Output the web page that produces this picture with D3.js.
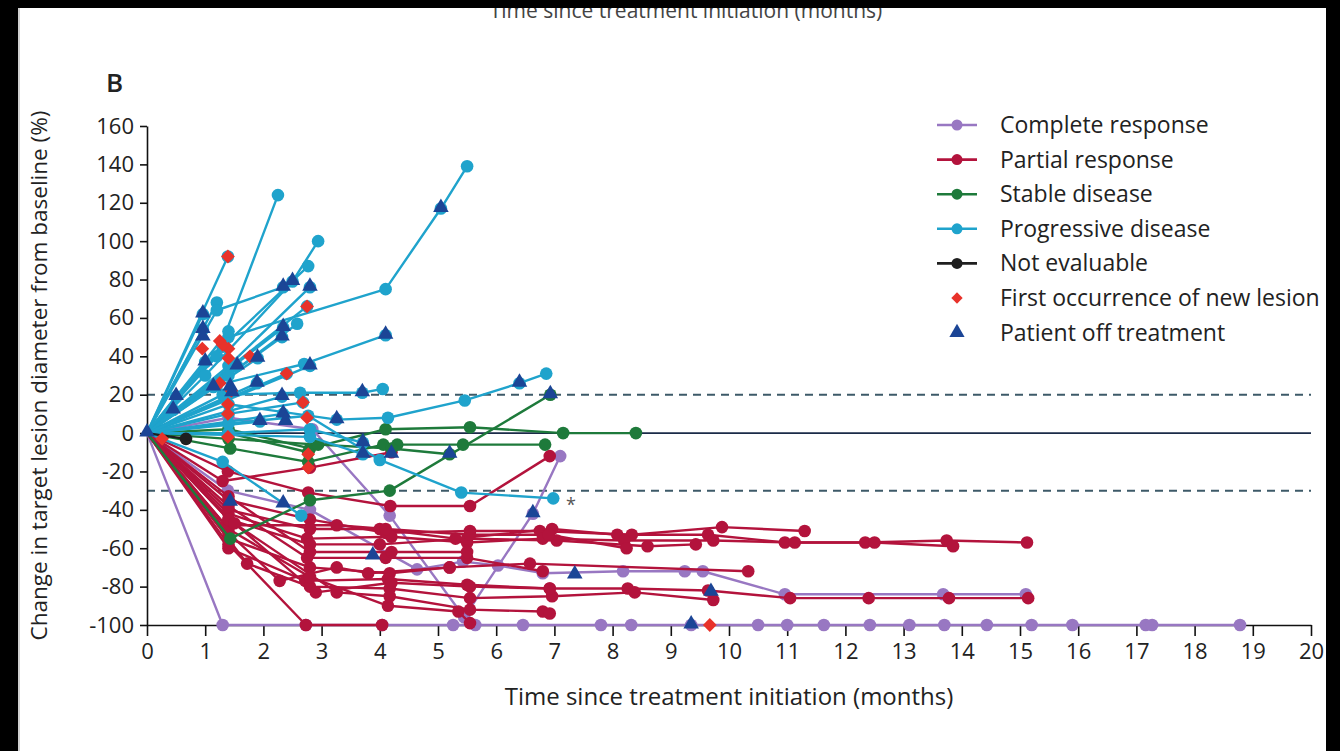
<!DOCTYPE html>
<html>
<head>
<meta charset="utf-8">
<script src="https://cdn.jsdelivr.net/npm/d3@7/dist/d3.min.js"></script>
<style>
  html, body { margin: 0; padding: 0; background: #000; }
  svg { display: block; }
  text { font-family: "Open Sans", "Noto Sans", sans-serif; fill: #222; }
</style>
</head>
<body>
<svg id="chart" width="1340" height="751"></svg>
<script>
// Per-patient trajectories: [months since start, % change in target lesion diameter]
const completeResponse = [
  [[0,0],[1.3,-100],[2.73,-100],[4.04,-100],[5.26,-100],[5.64,-100],[6.46,-100],[7.8,-100],[8.32,-100],[9.35,-100],[10.5,-100],[11.0,-100],[11.63,-100],[12.42,-100],[13.1,-100],[13.7,-100],[14.43,-100],[15.2,-100],[15.9,-100],[17.16,-100],[17.27,-100],[18.78,-100]],
  [[0,0],[1.39,-30],[2.8,-40],[4.64,-71],[5.43,-67],[6.03,-69],[6.8,-73],[8.18,-72],[9.24,-72],[9.55,-72],[10.96,-84],[13.68,-84],[15.1,-84]],
  [[0,0],[1.4,8],[2.84,2],[4.17,-43],[5.45,-96],[6.63,-42],[7.1,-12]]
];

const partialResponse = [
  [[0,0],[1.4,-35],[2.8,-45],[4.1,-52],[5.55,-51],[6.75,-51],[8.33,-53],[9.88,-49],[11.3,-51]],
  [[0,0],[1.4,-40],[2.8,-50],[4.0,-50],[5.3,-55],[6.96,-50],[8.08,-53],[9.64,-53],[10.96,-57],[12.34,-57],[13.74,-56],[15.12,-57]],
  [[0,0],[1.4,-42],[2.75,-55],[4.2,-54],[5.5,-57],[6.8,-55],[8.2,-56],[9.73,-56],[11.13,-57],[12.5,-57],[13.85,-59]],
  [[0,0],[1.4,-45],[2.8,-58],[4.0,-58],[5.5,-55],[7.04,-56],[8.6,-59],[9.43,-58]],
  [[0,0],[1.35,-48],[3.26,-48],[4.1,-50],[5.55,-53],[6.9,-53],[8.24,-60]],
  [[0,0],[1.4,-55],[2.8,-70],[4.17,-73],[5.2,-70],[6.58,-68],[10.33,-72]],
  [[0,0],[1.4,-60],[2.72,-77],[4.14,-76],[5.5,-79],[6.92,-81],[8.26,-81],[9.64,-82],[11.05,-86],[12.4,-86],[13.78,-86],[15.14,-86]],
  [[0,0],[1.72,-68],[2.8,-80],[4.17,-81],[5.55,-86],[6.96,-85],[8.38,-83],[9.73,-87]],
  [[0,0],[1.39,-20],[2.77,-31],[4.18,-38],[5.55,-38],[6.92,-12]],
  [[0,0],[1.4,-58],[2.73,-100],[4.04,-100]],
  [[0,0],[1.4,-50],[2.8,-75],[4.14,-90],[5.35,-93],[5.55,-99]],
  [[0,0],[1.4,-45],[3.26,-83],[4.17,-85],[5.55,-92],[6.8,-93],[6.92,-94]],
  [[0,0],[1.3,-25],[2.8,-18],[4.2,-10]],
  [[0,0],[1.4,-52],[2.28,-77],[3.26,-70],[3.8,-73],[5.2,-70]],
  [[0,0],[1.4,-38],[2.75,-65],[4.1,-65],[5.5,-65],[6.8,-72]],
  [[0,0],[1.5,-47],[2.9,-83],[4.2,-78],[5.55,-80],[6.92,-81]],
  [[0,0],[1.4,-33],[2.8,-62],[4.2,-62],[5.5,-62]]
];

const stableDisease = [
  [[0,0],[1.43,-55],[2.8,-35],[4.17,-30],[6.93,20]],
  [[0,0],[1.4,2],[2.8,-8],[4.1,2],[5.55,3],[7.15,0],[8.4,0]],
  [[0,0],[1.43,-8],[2.77,-15],[4.06,-6],[4.3,-6],[5.43,-6],[6.84,-6]],
  [[0,0],[1.4,-3],[2.94,-6],[4.2,-8],[5.2,-11]],
  [[0,0],[1.4,0],[2.77,-10]]
];

const progressiveDisease = [
  [[0,0],[1.39,92]],
  [[0,0],[1.2,40],[2.25,124]],
  [[0,0],[1.0,30],[2.5,79],[2.94,100]],
  [[0,0],[1.3,45],[2.77,87]],
  [[0,0],[1.2,68]],
  [[0,0],[1.2,64],[2.34,76]],
  [[0,0],[1.4,35],[2.8,76]],
  [[0,0],[1.4,50],[4.1,75],[5.05,117],[5.5,139]],
  [[0,0],[1.4,30],[2.58,57]],
  [[0,0],[1.4,53]],
  [[0,0],[1.2,25],[2.7,36],[4.1,51]],
  [[0,0],[1.3,20],[2.63,21],[3.7,21],[4.05,23]],
  [[0,0],[1.4,15],[3.26,7],[4.14,8],[5.46,17],[6.4,26],[6.86,31]],
  [[0,0],[1.3,-15],[2.65,-43]],
  [[0,0],[1.4,5],[2.77,9],[4.0,-14],[5.4,-31],[6.98,-34]],
  [[0,0],[0.96,62]],
  [[0,0],[0.96,54]],
  [[0,0],[1.0,37]],
  [[0,0],[0.5,19]],
  [[0,0],[0.45,12]],
  [[0,0],[1.55,35]],
  [[0,0],[1.9,39]],
  [[0,0],[2.34,55]],
  [[0,0],[2.32,50]],
  [[0,0],[1.14,24]],
  [[0,0],[1.89,26]],
  [[0,0],[2.32,19]],
  [[0,0],[2.34,10]],
  [[0,0],[1.94,6]],
  [[0,0],[2.8,35]],
  [[0,0],[1.4,10],[2.68,16]],
  [[0,0],[2.75,66]],
  [[0,0],[2.4,31]],
  [[0,0],[1.4,0],[2.8,2],[3.71,-5]],
  [[0,0],[2.8,-2],[3.71,-11]]
];

const notEvaluable = [
  [[0,0],[0.67,-3]]
];

// First occurrence of a new lesion
const newLesion = [
  [1.39,92],[2.75,66],[2.4,31],[1.25,48],[0.95,44],[1.4,44],[1.4,39],[1.77,40],[1.3,46],
  [1.25,26],[1.45,22],[1.39,15],[1.39,10],[2.68,16],[2.75,8],[1.39,-2],[0.26,-3],
  [2.77,-11],[2.77,-18],[9.67,-100]
];

// Patient taken off treatment
const offTreatment = [
  [0,0],[0.96,62],[0.96,54],[0.96,50],[1.0,37],[0.5,19],[0.45,12],[2.34,76],[2.8,76],[2.5,79],
  [2.34,55],[2.32,50],[1.55,35],[1.9,39],[1.14,24],[1.43,24],[1.46,21],[1.89,26],[2.32,19],
  [2.34,10],[2.38,6],[1.94,6],[3.26,7],[3.7,21],[4.1,51],[5.05,117],[6.4,26],[6.93,20],
  [3.71,-5],[3.71,-11],[4.2,-11],[5.2,-11],[3.88,-64],[6.63,-42],[7.35,-74],[9.35,-100],
  [9.69,-83],[1.43,-36],[2.34,-37],[2.8,35]
];

const xTicks = d3.range(0, 21, 1);
const yTicks = d3.range(-100, 161, 20);
const thresholds = [20, -30];

const legendItems = [
  { label: "Complete response", kind: "line", color: "#9877c2" },
  { label: "Partial response", kind: "line", color: "#b3133c" },
  { label: "Stable disease", kind: "line", color: "#1e7a3b" },
  { label: "Progressive disease", kind: "line", color: "#1fa3cc" },
  { label: "Not evaluable", kind: "line", color: "#1f1f1f" },
  { label: "First occurrence of new lesion", kind: "diamond", color: "#e8322a" },
  { label: "Patient off treatment", kind: "triangle", color: "#1b4596" }
];

const groups = [
  { data: completeResponse, color: "#9877c2" },
  { data: partialResponse, color: "#b3133c" },
  { data: stableDisease, color: "#1e7a3b" },
  { data: progressiveDisease, color: "#1fa3cc" },
  { data: notEvaluable, color: "#1f1f1f" }
];

const svg = d3.select("#chart");

// white page area inside the dark border
svg.append("rect").attr("x", 18).attr("y", 8).attr("width", 1308).attr("height", 760).attr("fill", "#fff");
svg.append("line").attr("x1", 19).attr("x2", 19).attr("y1", 8).attr("y2", 751).attr("stroke", "#d0d0d0").attr("stroke-width", 2);

const x = d3.scaleLinear().domain([0, 20]).range([147, 1311]);
const y = d3.scaleLinear().domain([-100, 160]).range([625, 126]);

// title of the panel above, cut off at the top edge
svg.append("text").attr("x", 686).attr("y", 18).attr("text-anchor", "middle")
  .style("font-size", "21px").style("fill", "#444")
  .text("Time since treatment initiation (months)");

svg.append("text").attr("x", 106).attr("y", 92)
  .style("font-size", "26px").style("font-weight", "600").text("B");

// reference lines
svg.selectAll("line.thr").data(thresholds).join("line")
  .attr("class", "thr")
  .attr("x1", x(0)).attr("x2", x(20))
  .attr("y1", d => y(d)).attr("y2", d => y(d))
  .attr("stroke", "#3d5a68").attr("stroke-width", 2).attr("stroke-dasharray", "8,6");

svg.append("line")
  .attr("x1", x(0)).attr("x2", x(20)).attr("y1", y(0)).attr("y2", y(0))
  .attr("stroke", "#1b2b48").attr("stroke-width", 1.6);

// axes
const hyphen = d => String(d).replace("\u2212", "-");
const yAxis = svg.append("g").attr("transform", `translate(${x(0)},0)`)
  .call(d3.axisLeft(y).tickValues(yTicks).tickSize(7).tickSizeOuter(0).tickPadding(6).tickFormat(hyphen));
const xAxis = svg.append("g").attr("transform", `translate(0,${y(-100)})`)
  .call(d3.axisBottom(x).tickValues(xTicks).tickSize(11).tickSizeOuter(0).tickPadding(7));
[yAxis, xAxis].forEach(g => {
  g.selectAll("path, line").attr("stroke", "#111").attr("stroke-width", 1.6);
  g.selectAll("text").style("font-size", "22px").style("font-family", "'Open Sans', sans-serif").attr("fill", "#222");
});

svg.append("text")
  .attr("transform", `translate(47,${y(30)}) rotate(-90)`)
  .attr("text-anchor", "middle").style("font-size", "22.5px")
  .text("Change in target lesion diameter from baseline (%)");

svg.append("text").attr("x", 729).attr("y", 705).attr("text-anchor", "middle")
  .style("font-size", "24px").text("Time since treatment initiation (months)");

// trajectories
const line = d3.line().x(d => x(d[0])).y(d => y(d[1]));
groups.forEach(gr => {
  const g = svg.append("g");
  g.selectAll("path").data(gr.data).join("path")
    .attr("d", line).attr("fill", "none").attr("stroke", gr.color)
    .attr("stroke-width", 2.4).attr("stroke-linejoin", "round");
  g.selectAll("circle").data(gr.data.flatMap(p => p.slice(1))).join("circle")
    .attr("cx", d => x(d[0])).attr("cy", d => y(d[1])).attr("r", 6.3).attr("fill", gr.color);
});

svg.append("g").selectAll("path").data(newLesion).join("path")
  .attr("d", d3.symbol().type(d3.symbolSquare).size(95))
  .attr("transform", d => `translate(${x(d[0])},${y(d[1])}) rotate(45)`)
  .attr("fill", "#e8322a");

svg.append("g").selectAll("path").data(offTreatment).join("path")
  .attr("transform", d => `translate(${x(d[0])},${y(d[1]) - 1})`)
  .attr("d", d3.symbol().type(d3.symbolTriangle).size(105)).attr("fill", "#1b4596");

svg.append("text").attr("x", 566).attr("y", 511).style("font-size", "18px").style("fill", "#555").text("*");

// legend
const lg = svg.append("g").attr("transform", "translate(937,125)");
const rows = lg.selectAll("g").data(legendItems).join("g")
  .attr("transform", (d, i) => `translate(0,${i * 34.6})`);
rows.filter(d => d.kind === "line").append("line")
  .attr("x1", 0).attr("x2", 40).attr("stroke", d => d.color).attr("stroke-width", 2.6);
rows.filter(d => d.kind === "line").append("circle")
  .attr("cx", 20).attr("r", 5.5).attr("fill", d => d.color);
rows.filter(d => d.kind === "diamond").append("path")
  .attr("transform", "translate(20,0) rotate(45)")
  .attr("d", d3.symbol().type(d3.symbolSquare).size(64)).attr("fill", d => d.color);
rows.filter(d => d.kind === "triangle").append("path")
  .attr("transform", "translate(20,0)")
  .attr("d", d3.symbol().type(d3.symbolTriangle).size(100)).attr("fill", d => d.color);
rows.append("text").attr("x", 63).attr("y", 8).style("font-size", "23px").text(d => d.label);

// dark border on top
svg.append("rect").attr("x", 0).attr("y", 0).attr("width", 1340).attr("height", 8).attr("fill", "#000");
svg.append("rect").attr("x", 1326).attr("y", 0).attr("width", 14).attr("height", 751).attr("fill", "#000");
svg.append("rect").attr("x", 0).attr("y", 0).attr("width", 18).attr("height", 751).attr("fill", "#000");
</script>
</body>
</html>
